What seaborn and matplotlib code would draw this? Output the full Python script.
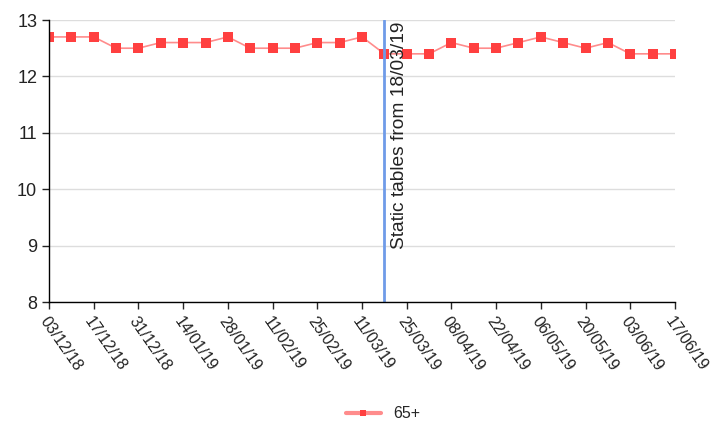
import pandas as pd
import matplotlib
matplotlib.use('Agg')
import matplotlib.pyplot as plt
import seaborn as sns

weeks = pd.date_range('2018-12-03', '2019-06-17', freq='7D')
values = [12.7, 12.7, 12.7, 12.5, 12.5, 12.6, 12.6, 12.6, 12.7, 12.5,
          12.5, 12.5, 12.6, 12.6, 12.7, 12.4, 12.4, 12.4, 12.6, 12.5,
          12.5, 12.6, 12.7, 12.6, 12.5, 12.6, 12.4, 12.4, 12.4]
series_name = '65+'
static_date = pd.Timestamp('2019-03-18')
static_label = 'Static tables from 18/03/19'
y_ticks = [8, 9, 10, 11, 12, 13]

df = pd.DataFrame({'week': weeks, 'value': values, 'group': series_name})

sns.set_style('white')
plt.rcParams['font.family'] = ['Liberation Sans', 'DejaVu Sans']

fig = plt.figure(figsize=(7.23, 4.32), dpi=100)
ax = fig.add_axes([0.0678, 0.3009, 0.8658, 0.6528])

sns.lineplot(data=df, x='week', y='value', hue='group', palette=['#ff4a4a'],
             marker='s', markersize=6.5, markeredgewidth=0, linewidth=1.2,
             ax=ax, legend=False)
# line a bit lighter than the markers
ax.lines[0].set_color('#ff8c8c')
ax.lines[0].set_markerfacecolor('#ff4040')

ax.axvline(static_date, color='#6f9be8', linewidth=2)
ax.text(static_date + pd.Timedelta(days=2.0), 12.97, static_label, rotation=90,
        ha='left', va='top', fontsize=13.8, color='#222222')

ax.set_xlim(weeks[0], weeks[-1])
ax.set_ylim(8, 13)
ax.set_yticks(y_ticks)
ax.set_xticks(weeks[::2])
ax.set_xticklabels([d.strftime('%d/%m/%y') for d in weeks[::2]],
                   rotation=-55, ha='left', va='top', rotation_mode='anchor',
                   fontsize=11.5, color='#222222')
ax.tick_params(axis='y', labelsize=13, colors='#222222', length=5, width=1)
ax.tick_params(axis='x', length=5, width=1, pad=4)
ax.tick_params(axis='both', which='both', direction='out', bottom=True, left=True)
ax.yaxis.grid(True, color='#dddddd', linewidth=1)
ax.set_axisbelow(True)
for s in ['top', 'right']:
    ax.spines[s].set_visible(False)
for s in ['left', 'bottom']:
    ax.spines[s].set_color('black')
    ax.spines[s].set_linewidth(1)
ax.set_xlabel('')
ax.set_ylabel('')

handle = plt.Line2D([], [], color='#ff8c8c', linewidth=3, marker='s',
                    markersize=4, markerfacecolor='#ff4040', markeredgewidth=0)
fig.legend([handle], [series_name], loc='center', bbox_to_anchor=(0.53, 0.042),
           frameon=False, fontsize=11.5, handlelength=2.2)

fig.savefig('out.png', dpi=100)
